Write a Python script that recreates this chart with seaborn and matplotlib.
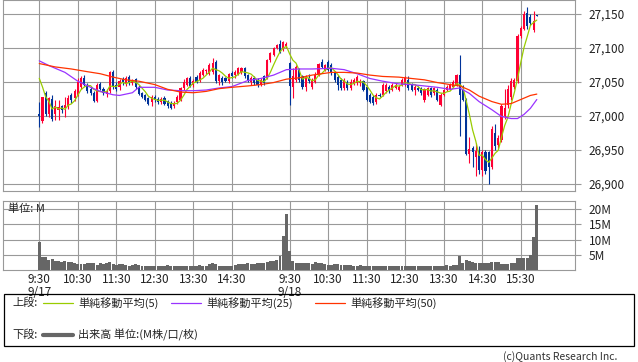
import numpy as np
import pandas as pd
import seaborn as sns
import matplotlib
matplotlib.use("Agg")
import matplotlib.pyplot as plt
from matplotlib.lines import Line2D
from matplotlib.patches import Rectangle

# 5-minute bars, 9/17 (bars 0-77) and 9/18 (bars 78-155)
opens = [27002, 26992, 27033, 27002, 27025, 27002, 27009, 27014, 27011, 27014,
         27031, 27026, 27031, 27043, 27056, 27045, 27040, 27034, 27022, 27047,
         27040, 27032, 27036, 27064, 27046, 27042, 27054, 27048, 27057, 27049,
         27054, 27043, 27033, 27030, 27026, 27021, 27028, 27025, 27021, 27026,
         27022, 27019, 27014, 27020, 27024, 27041, 27046, 27056, 27046, 27057,
         27053, 27060, 27066, 27062, 27064, 27079, 27051, 27056, 27055, 27052,
         27063, 27060, 27062, 27064, 27071, 27060, 27050, 27056, 27053, 27046,
         27058, 27056, 27082, 27090, 27100, 27106, 27098, 27103,
         27078, 27043, 27053, 27068, 27058, 27042, 27055, 27043, 27050, 27060,
         27080, 27068, 27080, 27075, 27064, 27057, 27053, 27041, 27050, 27041,
         27047, 27048, 27048, 27051, 27043, 27031, 27028, 27021, 27031, 27031,
         27036, 27043, 27038, 27041, 27038, 27046, 27046, 27053, 27046, 27038,
         27041, 27041, 27024, 27031, 27041, 27033, 27038, 27016, 27031, 27038,
         27040, 27043, 27046, 27060, 27038, 27024, 26944, 26952, 26940, 26948,
         26920, 26946, 26946, 26925, 26975, 26957, 26965, 27000, 27016, 27028,
         27042, 27051, 27117, 27128, 27152, 27146, 27127, 27148]
highs = [27021, 27028, 27036, 27028, 27030, 27023, 27023, 27016, 27028, 27030,
         27034, 27040, 27055, 27058, 27060, 27048, 27042, 27037, 27048, 27050,
         27043, 27040, 27066, 27068, 27050, 27054, 27057, 27058, 27060, 27054,
         27056, 27045, 27035, 27032, 27028, 27030, 27030, 27028, 27028, 27029,
         27024, 27022, 27022, 27030, 27043, 27054, 27057, 27058, 27054, 27060,
         27066, 27070, 27069, 27078, 27085, 27082, 27062, 27058, 27057, 27063,
         27066, 27068, 27072, 27072, 27072, 27062, 27058, 27058, 27055, 27056,
         27060, 27084, 27094, 27102, 27106, 27112, 27110, 27108,
         27080, 27070, 27075, 27070, 27060, 27060, 27062, 27056, 27064, 27078,
         27084, 27077, 27082, 27078, 27066, 27060, 27055, 27056, 27053, 27054,
         27056, 27060, 27054, 27053, 27045, 27033, 27030, 27033, 27034, 27048,
         27048, 27045, 27048, 27048, 27046, 27055, 27058, 27058, 27048, 27046,
         27044, 27043, 27041, 27043, 27043, 27043, 27041, 27033, 27040, 27045,
         27048, 27053, 27062, 27090, 27045, 27026, 26969, 26955, 26960, 26955,
         26950, 26949, 26948, 26985, 26988, 26972, 27018, 27040, 27046, 27055,
         27056, 27120, 27132, 27154, 27161, 27150, 27154, 27148]
lows = [26983, 26990, 26999, 26998, 26993, 26994, 26994, 27004, 26998, 27010,
        27019, 27022, 27029, 27040, 27044, 27033, 27030, 27020, 27020, 27038,
        27030, 27028, 27033, 27040, 27036, 27038, 27046, 27044, 27046, 27045,
        27040, 27030, 27026, 27022, 27016, 27014, 27020, 27018, 27018, 27016,
        27012, 27010, 27012, 27018, 27022, 27038, 27044, 27042, 27042, 27048,
        27050, 27058, 27062, 27060, 27062, 27048, 27046, 27046, 27050, 27048,
        27055, 27056, 27060, 27062, 27056, 27050, 27046, 27046, 27043, 27044,
        27046, 27054, 27080, 27088, 27098, 27092, 27096, 27100,
        27016, 27026, 27050, 27050, 27040, 27036, 27048, 27040, 27048, 27058,
        27070, 27066, 27066, 27060, 27050, 27038, 27038, 27038, 27038, 27038,
        27045, 27046, 27044, 27036, 27022, 27019, 27016, 27018, 27027, 27029,
        27034, 27034, 27036, 27039, 27036, 27044, 27044, 27038, 27036, 27030,
        27036, 27030, 27020, 27029, 27028, 27031, 27022, 27014, 27029, 27036,
        27038, 27041, 27044, 26970, 27022, 26942, 26931, 26924, 26911, 26915,
        26912, 26914, 26899, 26922, 26950, 26952, 26962, 26996, 27012, 27024,
        27040, 27048, 27114, 27126, 27128, 27134, 27124, 27147]
closes = [26999, 27027, 27002, 27026, 26996, 27014, 27013, 27009, 27016, 27026,
          27024, 27036, 27050, 27056, 27046, 27036, 27034, 27022, 27046, 27040,
          27034, 27036, 27064, 27042, 27040, 27052, 27048, 27055, 27050, 27052,
          27042, 27032, 27028, 27024, 27018, 27028, 27023, 27021, 27025, 27018,
          27015, 27012, 27019, 27028, 27041, 27050, 27055, 27044, 27052, 27050,
          27063, 27068, 27067, 27075, 27078, 27052, 27060, 27050, 27052, 27062,
          27058, 27065, 27070, 27070, 27058, 27053, 27056, 27048, 27046, 27053,
          27048, 27082, 27092, 27100, 27104, 27094, 27108, 27106,
          27044, 27058, 27072, 27053, 27043, 27058, 27051, 27053, 27060, 27076,
          27072, 27075, 27068, 27063, 27053, 27046, 27041, 27053, 27041, 27050,
          27053, 27057, 27050, 27038, 27024, 27021, 27019, 27031, 27029, 27046,
          27046, 27038, 27046, 27046, 27043, 27053, 27056, 27041, 27038, 27043,
          27038, 27033, 27039, 27041, 27031, 27041, 27024, 27031, 27038, 27043,
          27046, 27050, 27060, 27031, 27024, 26944, 26951, 26946, 26948, 26920,
          26946, 26918, 26925, 26980, 26955, 26968, 27014, 27012, 27040, 27052,
          27053, 27117, 27130, 27150, 27132, 27137, 27139, 27147]
# closes of the last bars of 9/16, used only to start the 5-bar average
prior_closes = [27090, 27075, 27060, 27052]

volume_m = [9.1, 4.3, 4.5, 3.4, 3.8, 3.0, 2.9, 2.7, 2.9, 2.7,
            2.6, 2.3, 2.2, 2.2, 2.1, 2.3, 2.4, 2.4, 1.8, 2.3,
            2.1, 2.4, 2.7, 2.0, 1.6, 2.1, 2.0, 1.6, 1.4, 1.8,
            1.9, 1.6, 1.5, 1.5, 1.5, 1.5, 1.3, 1.3, 1.3, 1.5,
            1.6, 1.4, 1.4, 1.4, 1.4, 1.4, 1.4, 1.4, 1.4, 1.5,
            1.6, 1.5, 1.4, 2.1, 2.4, 2.0, 1.5, 1.4, 1.4, 1.3,
            1.4, 1.6, 2.1, 2.1, 2.2, 2.5, 2.0, 2.0, 2.4, 2.5,
            2.3, 2.7, 2.9, 3.1, 3.4, 4.7, 11.3, 18.2,
            6.2, 3.1, 2.4, 2.4, 2.5, 2.4, 2.3, 2.2, 2.7, 2.4,
            2.3, 1.9, 1.8, 1.6, 1.9, 1.9, 1.8, 1.6, 1.8, 1.8,
            1.5, 1.5, 1.6, 1.5, 1.4, 1.3, 1.3, 1.3, 1.3, 1.3,
            1.3, 1.3, 1.3, 1.4, 1.4, 1.3, 1.4, 1.5, 1.3, 1.4,
            1.3, 1.3, 1.4, 1.3, 1.4, 1.3, 1.4, 1.5, 1.4, 1.8,
            1.4, 1.6, 1.6, 4.7, 2.3, 3.4, 3.0, 2.6, 2.4, 2.4,
            2.5, 2.5, 2.5, 2.8, 2.8, 2.8, 2.0, 2.0, 2.0, 2.5,
            2.4, 4.1, 3.9, 3.9, 4.0, 5.0, 11.0, 21.2]

# moving averages at sample bars
ma25_bars = [0, 3, 8, 12, 16, 19, 23, 25, 29, 31, 36, 40, 44, 48, 52, 56, 60, 65, 69, 73,
             77, 81, 85, 91, 95, 99, 103, 107, 112, 116, 120, 124, 128, 131, 134, 137, 141,
             144, 147, 149, 151, 153, 155]
ma25_vals = [27081, 27074, 27064, 27051, 27042, 27036, 27031, 27030, 27034, 27042,
             27042, 27038, 27037, 27037, 27038, 27041, 27043, 27052, 27055, 27060,
             27068, 27069, 27069, 27070, 27068, 27062, 27055, 27051, 27047, 27046,
             27044, 27042, 27039, 27041, 27033, 27021, 27009, 26999, 26996, 26996,
             27002, 27011, 27024]
ma50_bars = [0, 5, 10, 15, 19, 23, 27, 31, 36, 40, 44, 48, 52, 56, 60, 65, 69, 73, 77, 81,
             85, 91, 95, 99, 103, 107, 112, 116, 120, 124, 128, 131, 134, 137, 141, 144,
             147, 150, 153, 155]
ma50_vals = [27077, 27072, 27069, 27065, 27062, 27057, 27053, 27051, 27046, 27039,
             27035, 27034, 27036, 27040, 27042, 27044, 27046, 27049, 27054, 27056,
             27060, 27064, 27064, 27063, 27060, 27058, 27057, 27055, 27053, 27049,
             27046, 27044, 27038, 27029, 27021, 27017, 27018, 27024, 27030, 27032]

price_ticks = [26900, 26950, 27000, 27050, 27100, 27150]
volume_ticks = [5, 10, 15, 20]
time_tick_bars = [0, 12, 24, 36, 48, 60, 78, 90, 102, 114, 126, 138, 150]
time_tick_labels = ["9:30\n9/17", "10:30", "11:30", "12:30", "13:30", "14:30",
                    "9:30\n9/18", "10:30", "11:30", "12:30", "13:30", "14:30", "15:30"]

RED = "#ff0033"
BLUE = "#003399"
GRID = "#999999"
C_MA5 = "#99cc00"
C_MA25 = "#9933ff"
C_MA50 = "#ff3300"

sns.set_theme(style="white")
plt.rcParams["font.family"] = ["Noto Sans CJK JP", "DejaVu Sans"]

W, H = 638, 362
fig = plt.figure(figsize=(W / 100, H / 100), dpi=100)


def box(x0, y0, x1, y1):
    # pixel box (top-left origin) -> figure fraction
    return [x0 / W, 1 - y1 / H, (x1 - x0) / W, (y1 - y0) / H]


def fx(x):
    return x / W


def fy(y):
    return 1 - y / H


ax = fig.add_axes(box(3, 0, 575, 190.5))
axv = fig.add_axes(box(3, 201, 575, 270.3), sharex=ax)

n = len(closes)
bars = np.arange(n)
o = np.array(opens, float)
hi = np.array(highs, float)
lo = np.array(lows, float)
c = np.array(closes, float)
colors = np.where(c >= o, RED, BLUE)

# candles
ax.vlines(bars, lo, hi, colors=colors, lw=0.8, zorder=3)
body = np.maximum(np.abs(c - o), 0.8)
ax.bar(bars, body, bottom=np.minimum(o, c), width=0.66, color=colors, linewidth=0, zorder=3)

# moving averages
ma5 = pd.Series(prior_closes + closes).rolling(5).mean().iloc[len(prior_closes):].to_numpy()
sns.lineplot(x=bars, y=ma5, ax=ax, color=C_MA5, lw=0.9, zorder=4)
sns.lineplot(x=ma25_bars, y=ma25_vals, ax=ax, color=C_MA25, lw=0.9, zorder=4)
sns.lineplot(x=ma50_bars, y=ma50_vals, ax=ax, color=C_MA50, lw=0.9, zorder=4)

# volume
axv.bar(bars, volume_m, width=0.92, color="#666666", linewidth=0, zorder=3)

for a in (ax, axv):
    a.set_xlim(-11.3, 166.9)
    a.grid(True, color=GRID, lw=0.8)
    a.set_axisbelow(True)
    for s in a.spines.values():
        s.set_color(GRID)
        s.set_linewidth(0.8)
    a.yaxis.tick_right()
    a.tick_params(axis="y", length=4, width=0.8, color=GRID, pad=6,
                  labelsize=8.5, labelcolor="#222222")
    a.set_xticks(time_tick_bars)
    a.set_ylabel("")
    a.set_xlabel("")

ax.set_ylim(26890, 27170.6)
ax.set_yticks(price_ticks)
ax.set_yticklabels([f"{v:,}" for v in price_ticks])
ax.tick_params(axis="x", length=0, labelbottom=False)

axv.set_ylim(0, 22.6)
axv.set_yticks(volume_ticks)
axv.set_yticklabels([f"{v}M" for v in volume_ticks])
axv.set_xticklabels(time_tick_labels)
axv.tick_params(axis="x", length=0, pad=2, labelsize=8.5, labelcolor="#222222")
for lbl in axv.get_xticklabels():
    lbl.set_linespacing(0.95)

fig.text(fx(8), fy(209), "単位: M", fontsize=8, color="#222222", va="center", ha="left")

# legend box
fig.add_artist(Rectangle((fx(3.5), fy(346)), fx(630.5), (346 - 294) / H,
                         transform=fig.transFigure, fill=False, ec="black", lw=0.9))
ly1, ly2 = 303, 335
fig.text(fx(12), fy(ly1), "上段:", fontsize=8, color="#222222", va="center")
for x0, col, label in [(43, C_MA5, "単純移動平均(5)"), (171, C_MA25, "単純移動平均(25)"),
                       (315, C_MA50, "単純移動平均(50)")]:
    fig.add_artist(Line2D([fx(x0), fx(x0 + 30)], [fy(ly1), fy(ly1)],
                          transform=fig.transFigure, color=col, lw=0.9))
    fig.text(fx(x0 + 35), fy(ly1), label, fontsize=8, color="#222222", va="center")
fig.text(fx(12), fy(ly2), "下段:", fontsize=8, color="#222222", va="center")
fig.add_artist(Line2D([fx(43), fx(73)], [fy(ly2), fy(ly2)],
                      transform=fig.transFigure, color="#666666", lw=3))
fig.text(fx(78), fy(ly2), "出来高 単位:(M株/口/枚)", fontsize=8, color="#222222", va="center")

fig.text(fx(617), fy(357), "(c)Quants Research Inc.", fontsize=7.5, color="#333333",
         va="center", ha="right")

fig.savefig("out.png", dpi=100)
